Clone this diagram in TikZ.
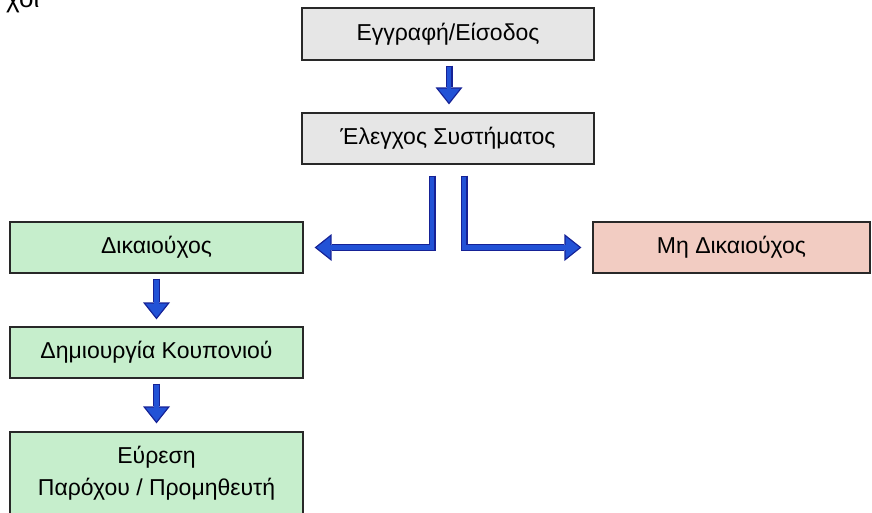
\documentclass[tikz,border=0pt]{standalone}
\usepackage{fontspec}
\setmainfont{Liberation Sans}
\usetikzlibrary{arrows.meta}

\definecolor{boxgray}{RGB}{230,230,230}
\definecolor{boxgreen}{RGB}{198,238,204}
\definecolor{boxpink}{RGB}{242,204,194}
\definecolor{boxedge}{RGB}{40,40,40}
\definecolor{arrowfill}{RGB}{34,82,214}
\definecolor{arrowedge}{RGB}{22,34,150}

\tikzset{
  stepbox/.style={draw=boxedge, line width=1.2pt, inner sep=0pt, align=center,
    font=\fontsize{23}{32}\selectfont},
  graybox/.style={stepbox, fill=boxgray},
  greenbox/.style={stepbox, fill=boxgreen},
  pinkbox/.style={stepbox, fill=boxpink},
  blockarrow/.style={arrowfill, line width=4.4pt, line join=miter,
    shorten <=1.3pt, shorten >=2.1pt,
    -{Triangle[length=13.6pt,width=21.6pt,line width=0pt]},
    preaction={draw=arrowedge, line width=7pt, line join=miter,
      shorten <=0pt, shorten >=0pt,
      -{Triangle[length=17pt,width=27pt,line width=0pt]}}},
}

\begin{document}
\begin{tikzpicture}[x=1pt,y=-1pt]
  \useasboundingbox (0,0) rectangle (872,512);

  % fragment of a heading line at the top edge
  \node[anchor=base west, inner sep=0pt, font=\fontsize{26}{30}\selectfont] (frag) at (6,7) {χοι};

  % boxes
  \node[graybox, minimum width=292pt, minimum height=52pt] (reg) at (448,34) {Εγγραφή/Είσοδος};
  \node[graybox, minimum width=292pt, minimum height=51pt] (check) at (448,138.5) {Έλεγχος Συστήματος};
  \node[greenbox, minimum width=293pt, minimum height=51pt] (elig) at (156.5,247.5) {Δικαιούχος};
  \node[pinkbox, minimum width=277pt, minimum height=51pt] (noelig) at (731.5,247.5) {Μη Δικαιούχος};
  \node[greenbox, minimum width=293pt, minimum height=51pt] (coupon) at (156.5,352.5) {Δημιουργία Κουπονιού};
  \node[greenbox, minimum width=293pt, minimum height=82pt] (find) at (156.5,473) {Εύρεση\\Παρόχου / Προμηθευτή};

  % connectors
  \draw[blockarrow] ([xshift=1pt,yshift=-5pt]reg.south) -- ([xshift=1pt,yshift=8pt]check.north);
  \draw[blockarrow] ([xshift=-16pt,yshift=-11pt]check.south) |- ([xshift=11pt]elig.east);
  \draw[blockarrow] ([xshift=16pt,yshift=-11pt]check.south) |- ([xshift=-11pt]noelig.west);
  \draw[blockarrow] ([yshift=-5pt]elig.south) -- ([yshift=7pt]coupon.north);
  \draw[blockarrow] ([yshift=-5pt]coupon.south) -- ([yshift=8pt]find.north);
\end{tikzpicture}
\end{document}
